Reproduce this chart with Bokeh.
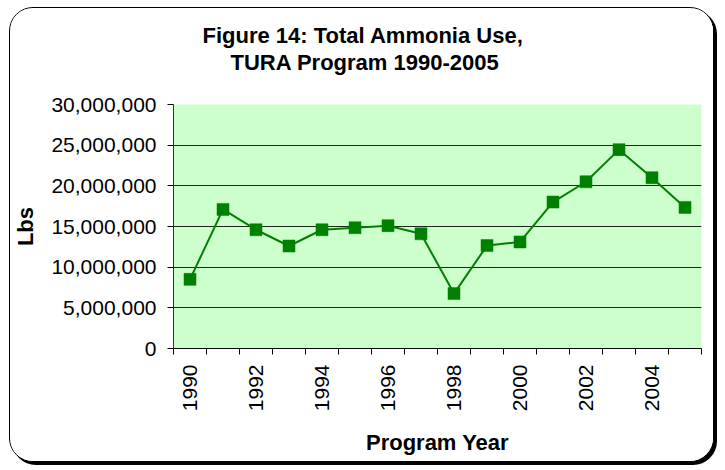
import math
from bokeh.plotting import figure
from bokeh.models import Range1d, FixedTicker, NumeralTickFormatter, Title
from bokeh.embed import file_html
from bokeh.resources import INLINE

# ---- data ----
years = [1990, 1991, 1992, 1993, 1994, 1995, 1996, 1997,
         1998, 1999, 2000, 2001, 2002, 2003, 2004, 2005]
ammonia_lbs = [8500000, 17100000, 14600000, 12600000, 14600000, 14850000,
               15100000, 14100000, 6750000, 12650000, 13100000, 18000000,
               20500000, 24450000, 21000000, 17350000]
y_ticks = [0, 5000000, 10000000, 15000000, 20000000, 25000000, 30000000]
x_label_years = [1990, 1992, 1994, 1996, 1998, 2000, 2002, 2004]

title_line1 = "Figure 14: Total Ammonia Use,"
title_line2 = "TURA Program 1990-2005"
x_title = "Program Year"
y_title = "Lbs"

FONT = "Liberation Sans"
W, H = 705, 455

p = figure(width=W, height=H, output_backend="svg", toolbar_location=None,
           x_range=Range1d(years[0] - 0.5, years[-1] + 0.5),
           y_range=Range1d(0, 30000000),
           min_border_left=160, min_border_right=14,
           min_border_top=96, min_border_bottom=115)

p.styles = {"border": "1px solid black", "border-radius": "24px",
            "box-shadow": "3px 3px 0 0 black", "overflow": "hidden",
            "background-color": "white", "margin-left": "9px",
            "margin-top": "7px"}

p.background_fill_color = "#CCFFCC"
p.border_fill_color = "white"
p.outline_line_color = None

# titles: spacer nearest the frame, then line 2, then line 1 (p.title) on top
spacer = Title(text=" ", text_font_size="1px", standoff=27)
p.add_layout(spacer, "above")
t2 = Title(text=title_line2, text_font=FONT, text_font_size="22px",
           text_font_style="bold", text_color="black", align="left",
           offset=57, standoff=0)
p.add_layout(t2, "above")
p.title.text = title_line1
p.title.text_font = FONT
p.title.text_font_size = "22px"
p.title.text_font_style = "bold"
p.title.text_color = "black"
p.title.align = "left"
p.title.offset = 29
p.title.standoff = -1

# line + markers
p.line(years, ammonia_lbs, line_color="#008000", line_width=2)
p.scatter(years, ammonia_lbs, marker="square", size=12,
          fill_color="#008000", line_color="#00800080", line_width=1)

# y axis
p.yaxis.ticker = FixedTicker(ticks=y_ticks)
p.yaxis.formatter = NumeralTickFormatter(format="0,0")
p.yaxis.major_label_text_font = FONT
p.yaxis.major_label_text_font_size = "21px"
p.yaxis.major_label_text_color = "black"
p.yaxis.major_tick_out = 6
p.yaxis.major_tick_in = 0
p.yaxis.minor_tick_out = 0
p.yaxis.minor_tick_in = 0
p.yaxis.major_label_standoff = 11
p.yaxis.axis_line_color = "#333333"
p.yaxis.major_tick_line_color = "black"
p.yaxis.axis_label = y_title
p.yaxis.axis_label_text_font = FONT
p.yaxis.axis_label_text_font_size = "22px"
p.yaxis.axis_label_text_font_style = "bold"
p.yaxis.axis_label_text_color = "black"
p.yaxis.axis_label_standoff = 10

# x axis
p.xaxis.ticker = FixedTicker(ticks=x_label_years,
                             minor_ticks=[y - 0.5 for y in years] + [years[-1] + 0.5])
p.xaxis.major_label_orientation = math.pi / 2
p.xaxis.major_label_text_font = FONT
p.xaxis.major_label_text_font_size = "21px"
p.xaxis.major_label_text_color = "black"
p.xaxis.major_tick_out = 0
p.xaxis.major_tick_in = 0
p.xaxis.minor_tick_out = 6
p.xaxis.minor_tick_in = 0
p.xaxis.minor_tick_line_color = "black"
p.xaxis.major_label_standoff = 10
p.xaxis.axis_line_color = "black"
p.xaxis.axis_label = x_title
p.xaxis.axis_label_text_font = FONT
p.xaxis.axis_label_text_font_size = "22px"
p.xaxis.axis_label_text_font_style = "bold"
p.xaxis.axis_label_text_color = "black"
p.xaxis.axis_label_standoff = 16

# grid
p.xgrid.visible = False
p.ygrid.ticker = FixedTicker(ticks=y_ticks[1:-1])
p.ygrid.grid_line_color = "#222222"
p.ygrid.grid_line_width = 1

open("out.html", "w").write(file_html(p, INLINE))
